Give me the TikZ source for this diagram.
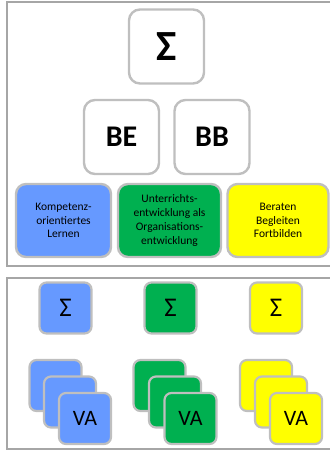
\documentclass[tikz,border=0pt]{standalone}
\usepackage{fontspec}
\setmainfont{Carlito}
\usepackage{xcolor}
\usetikzlibrary{positioning}

\definecolor{kolblue}{HTML}{6699FF}
\definecolor{uoegreen}{HTML}{00B050}
\definecolor{bbfyellow}{HTML}{FFFF00}
\definecolor{boxgray}{HTML}{BFBFBF}
\definecolor{framegray}{HTML}{A6A6A6}

\tikzset{
    bigbox/.style={draw=boxgray, line width=2.4pt, rounded corners=11pt, fill=white, inner sep=0pt, minimum width=75pt, minimum height=74pt},
    fieldbox/.style={draw=boxgray, line width=2.4pt, rounded corners=10pt, inner sep=0pt, minimum height=73pt, align=center, font=\fontsize{11.5}{13.7}\selectfont},
    smallbox/.style={draw=boxgray, line width=2.2pt, rounded corners=7pt, inner sep=0pt, minimum width=52pt, minimum height=51pt},
    frame/.style={draw=framegray, line width=2pt}
}

\begin{document}
\begin{tikzpicture}[x=1pt, y=-1pt]
    \useasboundingbox (0,0) rectangle (330,451);
    \coordinate (topnw) at (7,2);
    \coordinate (topse) at (336,266);
    \coordinate (lownw) at (7,277.5);
    \coordinate (lowse) at (336,448.5);
    \draw[frame] (topnw) rectangle (topse);
    \draw[frame] (lownw) rectangle (lowse);

    % upper part
    \node[bigbox, font=\fontsize{43}{43}\selectfont\bfseries] (sum) at (166.5,46.5) {Σ};
    \node[bigbox, font=\fontsize{30}{30}\selectfont\bfseries] (be) at (121.5,137) {BE};
    \node[bigbox, font=\fontsize{30}{30}\selectfont\bfseries] (bb) at (212,137) {BB};

    \node[fieldbox, fill=kolblue, minimum width=95pt] (kol) at (63.5,220.5) {Kompetenz-\\orientiertes\\Lernen};
    \node[fieldbox, fill=uoegreen, minimum width=103pt] (uoe) at (169.5,220.5) {Unterrichts-\\entwicklung als\\Organisations-\\entwicklung};
    \node[fieldbox, fill=bbfyellow, minimum width=101pt] (bbf) at (278,220.5) {Beraten\\Begleiten\\Fortbilden};

    % lower part
    \node[smallbox, fill=kolblue, font=\fontsize{27}{27}\selectfont] (kolsum) at (65.5,308) {Σ};
    \node[smallbox, fill=uoegreen, font=\fontsize{27}{27}\selectfont] (uoesum) at (170.5,308) {Σ};
    \node[smallbox, fill=bbfyellow, font=\fontsize{27}{27}\selectfont] (bbfsum) at (276,308) {Σ};

    \node[smallbox, fill=kolblue] (kolva1) at (55.5,385.5) {};
    \node[smallbox, fill=kolblue] (kolva2) at (70,402) {};
    \node[smallbox, fill=kolblue, font=\fontsize{22}{22}\selectfont] (kolva3) at (85,418.5) {VA};

    \node[smallbox, fill=uoegreen] (uoeva1) at (159.5,385.5) {};
    \node[smallbox, fill=uoegreen] (uoeva2) at (175,402) {};
    \node[smallbox, fill=uoegreen, font=\fontsize{22}{22}\selectfont] (uoeva3) at (190.5,418.5) {VA};

    \node[smallbox, fill=bbfyellow] (bbfva1) at (266,385.5) {};
    \node[smallbox, fill=bbfyellow] (bbfva2) at (281,402) {};
    \node[smallbox, fill=bbfyellow, font=\fontsize{22}{22}\selectfont] (bbfva3) at (296,418.5) {VA};
\end{tikzpicture}
\end{document}
